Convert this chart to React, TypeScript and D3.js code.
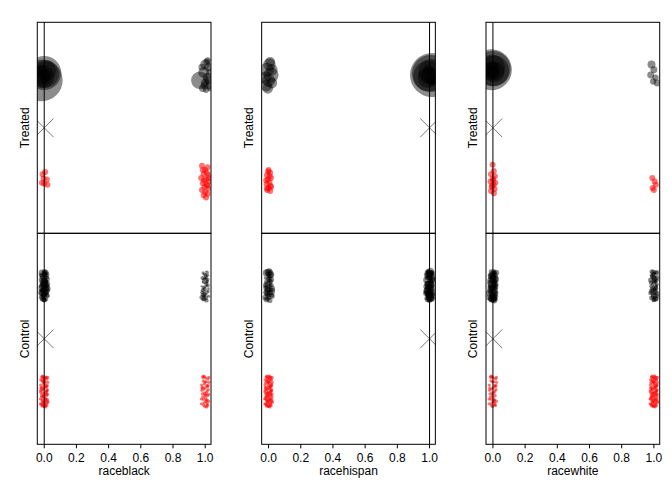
import * as d3 from "d3";

const variables = ["raceblack", "racehispan", "racewhite"];
const groups = ["Treated", "Control"];
const crossValue = [0, 1, 0]; // where the X mark and the vertical reference line sit
const xTicks = [0, 0.2, 0.4, 0.6, 0.8, 1];

// hand-typed jitter offsets (normalised, -1..1), shared by the dense control clusters
const JITTER: [number, number][] = [
  [0.12, -0.85], [-0.64, 0.33], [0.81, -0.12], [-0.27, 0.71], [0.45, 0.52], [-0.92, -0.41], [0.03, -0.23], [0.67, 0.88],
  [-0.51, -0.67], [0.29, 0.09], [-0.08, 0.95], [0.94, -0.58], [-0.73, 0.14], [0.38, -0.37], [-0.19, -0.94], [0.58, 0.26],
  [-0.44, 0.49], [0.16, 0.64], [-0.86, -0.08], [0.72, -0.79], [-0.33, -0.16], [0.05, 0.38], [0.87, 0.61], [-0.61, -0.89],
  [0.24, -0.62], [-0.97, 0.77], [0.49, -0.03], [-0.12, 0.22], [0.63, -0.31], [-0.39, 0.86], [0.91, 0.18], [-0.22, -0.49],
  [0.35, 0.97], [-0.69, -0.27], [0.08, -0.71], [-0.55, 0.59], [0.77, -0.45], [-0.03, 0.04], [0.19, -0.99], [-0.81, 0.43],
  [-0.41, 0.12], [0.66, -0.73], [-0.15, 0.57], [0.88, 0.35], [-0.79, -0.55], [0.27, -0.18], [-0.58, 0.91], [0.11, 0.79],
  [0.52, -0.92], [-0.95, 0.02], [0.37, 0.44], [-0.26, -0.81], [0.74, -0.06], [-0.07, -0.35], [0.96, 0.69], [-0.67, 0.28],
  [0.21, -0.52], [-0.36, 0.66], [0.59, 0.15], [-0.88, -0.74], [0.01, 0.93], [0.43, -0.28], [-0.47, -0.11], [0.83, 0.5],
  [-0.18, 0.31], [0.32, -0.86], [-0.74, 0.81], [0.68, 0.02], [-0.3, -0.63], [0.14, 0.21], [-0.99, 0.47], [0.55, 0.73],
  [-0.05, -0.6], [0.79, -0.39], [-0.53, -0.97], [0.25, 0.54], [-0.84, -0.22], [0.47, 0.84], [-0.21, 0.08], [0.9, -0.9],
];

// matched treated units: [jitter x, jitter y, weight], per variable
const treatedMatched0: [number, number, number][][] = [
  [[-0.015, 0.1, 90], [0.0, -0.04, 60], [0.005, -0.02, 40], [-0.01, 0.03, 28], [0.012, -0.08, 20], [-0.005, 0.06, 12], [0.008, 0.0, 7], [-0.012, -0.1, 4], [0.0, 0.1, 2.5]],
  [[0.005, -0.2, 8], [-0.01, -0.1, 10], [0.015, 0.0, 12], [0.0, 0.1, 9], [-0.015, 0.2, 7], [0.02, 0.15, 6], [0.01, -0.25, 5], [-0.005, 0.25, 6], [0.02, -0.1, 7], [-0.02, 0.05, 8]],
  [[-0.01, -0.1, 87], [0.0, -0.12, 65], [0.005, -0.08, 48], [-0.005, -0.14, 34], [0.008, -0.06, 22], [-0.008, -0.1, 14], [0.0, -0.04, 8], [0.004, -0.16, 4]],
];
const treatedMatched1: [number, number, number][][] = [
  [[-0.033, 0.1, 16], [0.0, -0.2, 5], [0.02, -0.15, 4], [-0.01, -0.05, 6], [0.015, 0.05, 5], [0.0, 0.15, 4], [0.025, 0.2, 3], [-0.015, 0.25, 3],
   [0.01, -0.25, 2.5], [0.03, -0.05, 3], [-0.02, -0.15, 2.5], [0.005, 0.28, 2], [0.02, 0.1, 4], [-0.005, 0.2, 3], [0.03, 0.25, 2], [0.015, -0.28, 2]],
  [[0.015, 0.0, 100], [0.005, -0.03, 70], [-0.005, 0.02, 50], [0.01, -0.06, 34], [-0.01, 0.05, 22], [0.0, 0.0, 14], [0.012, 0.08, 8], [-0.008, -0.1, 5], [0.004, 0.12, 3]],
  [[-0.015, -0.2, 3.3], [0.0, -0.1, 2.5], [-0.02, 0.0, 2.5], [0.01, 0.05, 2], [0.02, 0.15, 2.5], [-0.005, 0.12, 2]],
];

// unmatched treated units: [jitter x, jitter y], per variable
const treatedUnmatched0: [number, number][][] = [
  [[-0.01, -0.12], [0.006, -0.16], [0.016, -0.02], [-0.014, 0.04], [0.0, 0.06], [0.02, 0.08], [-0.004, -0.04]],
  [[0.0, -0.2], [0.01, -0.15], [-0.01, -0.1], [0.015, -0.05], [-0.005, -0.02], [0.005, 0.03], [-0.012, 0.07], [0.012, 0.1],
   [0.0, 0.14], [-0.008, 0.18], [0.01, 0.2], [-0.015, 0.0], [0.015, 0.12], [-0.003, -0.17], [0.007, -0.08], [-0.01, 0.15]],
  [[-0.002, -0.3], [0.005, -0.18], [-0.012, -0.12], [0.012, -0.08], [0.0, -0.04], [-0.015, 0.02], [0.015, 0.04], [0.004, 0.08],
   [-0.008, 0.12], [0.01, 0.16], [-0.012, 0.2], [0.006, 0.24], [0.0, 0.0], [-0.005, 0.1]],
];
const treatedUnmatched1: [number, number][][] = [
  [[-0.02, -0.28], [0.015, -0.25], [0.0, -0.2], [-0.01, -0.12], [0.02, -0.1], [-0.025, -0.05], [0.005, -0.02], [0.025, 0.02],
   [-0.015, 0.05], [0.01, 0.08], [-0.005, 0.12], [0.02, 0.15], [-0.02, 0.18], [0.0, 0.22], [0.015, 0.25], [-0.01, 0.28],
   [0.01, -0.15], [-0.015, -0.2], [0.005, 0.32], [0.02, -0.05], [-0.008, 0.0], [0.012, 0.1]],
  [],
  [[-0.01, -0.05], [0.005, 0.02], [0.012, 0.08], [-0.008, 0.14], [0.0, 0.18]],
];

// matched control units: weights, per variable
const controlMatched0: number[][] = [
  [1.2, 0.8, 2.0, 1.5, 0.9, 1.1, 2.6, 0.7, 1.4, 1.8, 1.0, 0.6, 2.2, 1.3, 0.9, 1.6, 3.0, 1.1, 0.8, 1.4, 1.9, 0.7, 1.2, 2.4, 1.0, 0.9, 1.5, 1.7, 0.8, 1.3, 2.1, 1.0, 0.6, 1.2,
   1.1, 0.9, 1.7, 0.8, 1.3, 2.0, 1.0, 0.7, 1.5, 1.2, 0.9, 2.3, 1.1, 0.8, 1.4, 1.0, 1.6, 0.7, 1.2, 1.9, 0.9, 1.3, 1.0, 0.8, 2.5, 1.1, 1.4, 0.9, 1.2, 0.7, 1.8, 1.0],
  [1.4, 0.9, 2.3, 1.1, 1.7, 0.8, 1.2, 2.0, 1.5, 0.9, 1.3, 2.6, 1.0, 1.6, 0.8, 1.9, 1.2, 1.1, 2.2, 0.9, 1.4, 1.0,
   1.2, 0.8, 1.6, 1.0, 2.0, 1.3, 0.9, 1.5, 1.1, 2.4, 0.8, 1.2, 1.7, 1.0, 1.4, 0.9, 1.8, 1.1, 1.3, 0.7, 1.5, 1.0, 1.2],
  [1.3, 2.1, 0.9, 1.6, 1.1, 2.7, 0.8, 1.4, 1.9, 1.0, 1.2, 0.7, 2.3, 1.5, 1.1, 0.9, 1.8, 1.3, 2.0, 1.0, 0.8, 1.6, 1.2, 2.4, 1.1, 0.9, 1.5, 1.7, 1.0, 1.3, 0.8, 2.2, 1.4, 1.0,
   1.2, 0.9, 1.7, 1.1, 2.2, 1.4, 0.8, 1.5, 1.0, 1.9, 1.3, 0.9, 2.5, 1.1, 1.6, 1.0, 1.2, 0.8, 1.8, 1.4, 1.0, 2.0, 1.3, 0.9, 1.5, 1.1, 1.7, 1.2, 0.8, 1.4, 2.1, 1.0, 1.3, 0.9, 1.6, 1.1],
];
const controlMatched1: number[][] = [
  [0.5, 0.8, 1.2, 0.3, 0.9, 0.6, 1.4, 0.4, 0.7, 1.0, 0.2, 0.8, 1.3, 0.5, 0.6, 0.1, 0.9, 0.7,
   0.6, 1.1, 0.4, 0.8, 0.9, 0.5, 1.2, 0.7, 0.3, 1.0, 0.6, 0.8, 2.0, 0.5, 0.9, 0.4, 0.7],
  [1.5, 2.2, 1.1, 2.8, 1.3, 1.8, 0.9, 2.5, 1.4, 1.0, 2.0, 1.6, 3.0, 1.2, 1.7, 0.9, 2.3, 1.5, 1.1, 1.9, 2.6, 1.3, 1.0, 2.1, 1.4, 1.8, 1.2, 2.4, 1.6, 1.1, 2.0, 1.3, 0.9, 1.5,
   1.3, 2.0, 1.0, 1.7, 2.5, 1.2, 1.5, 0.9, 2.2, 1.4, 1.1, 1.8, 2.7, 1.0, 1.6, 1.3, 2.1, 0.9, 1.5, 1.2, 1.9, 1.4, 2.3, 1.1, 1.0, 1.7, 1.3, 2.0, 1.5, 0.9, 1.2, 1.8, 1.4, 1.1, 1.6, 1.0],
  [0.6, 1.1, 0.4, 1.5, 0.8, 0.2, 1.2, 0.9, 0.5, 1.7, 0.7, 1.0, 0.3, 1.3, 0.8, 0.6, 1.4, 0.9, 0.15, 1.1, 0.5, 1.6, 0.7, 1.0, 0.4, 1.2,
   0.9, 1.3, 0.5, 1.0, 1.8, 0.7, 1.2, 0.6, 1.5, 0.8, 1.1, 0.4, 1.4, 0.9, 1.0, 0.6, 1.7, 0.8, 1.2, 0.5, 1.0, 1.3, 0.7, 0.9],
];

// unmatched control units: counts, per variable
const controlUnmatched0 = [70, 80, 40];
const controlUnmatched1 = [45, 0, 80];

const W = 672;
const H = 480;
const panelLeft = 37.3;
const panelStep = 224.35;
const panelWidth = 173.7;
const plotTop = 22.3;
const plotMid = 233.3;
const plotBottom = 444.3;
const font = "'Liberation Sans', Arial, sans-serif";

type Pt = { x: number; y: number; r: number; red: boolean };

function jit(cluster: number, k: number) {
  return JITTER[(cluster * 23 + k) % JITTER.length];
}

export default function App() {
  const rScale = d3.scaleSqrt().domain([0, 1]).range([0, 2.2]);

  const halfPoints = (i: number, g: number): Pt[] => {
    const pts: Pt[] = [];
    if (g === 0) {
      treatedMatched0[i].forEach(([jx, jy, w]) => pts.push({ x: jx, y: 1 + jy, r: rScale(w), red: false }));
      treatedMatched1[i].forEach(([jx, jy, w]) => pts.push({ x: 1 + jx, y: 1 + jy, r: rScale(w), red: false }));
      treatedUnmatched0[i].forEach(([jx, jy]) => pts.push({ x: jx, y: 3 + jy, r: 3, red: true }));
      treatedUnmatched1[i].forEach(([jx, jy]) => pts.push({ x: 1 + jx, y: 3 + jy, r: 3, red: true }));
    } else {
      controlMatched0[i].forEach((w, k) => {
        const [a, b] = jit(i * 4, k);
        pts.push({ x: a * 0.022, y: 1 + b * 0.28, r: rScale(w), red: false });
      });
      controlMatched1[i].forEach((w, k) => {
        const [a, b] = jit(i * 4 + 1, k);
        pts.push({ x: 1 + a * 0.022, y: 1 + b * 0.28, r: rScale(w), red: false });
      });
      d3.range(controlUnmatched0[i]).forEach((k) => {
        const [a, b] = jit(i * 4 + 2, k);
        pts.push({ x: a * 0.024, y: 3 + b * 0.3, r: 1.6, red: true });
      });
      d3.range(controlUnmatched1[i]).forEach((k) => {
        const [a, b] = jit(i * 4 + 3, k);
        pts.push({ x: 1 + a * 0.024, y: 3 + b * 0.3, r: 1.6, red: true });
      });
    }
    return pts;
  };

  return (
    <svg width={W} height={H} style={{ position: "absolute", left: 0, top: 0 }} fontFamily={font}>
      <rect width={W} height={H} fill="white" />
      <defs>
        {variables.map((v, i) =>
          groups.map((gname, g) => (
            <clipPath id={`clip-${i}-${g}`} key={`${v}-${gname}`}>
              <rect
                x={panelLeft + i * panelStep}
                y={g === 0 ? plotTop : plotMid}
                width={panelWidth}
                height={g === 0 ? plotMid - plotTop : plotBottom - plotMid}
              />
            </clipPath>
          ))
        )}
      </defs>
      {variables.map((v, i) => {
        const left = panelLeft + i * panelStep;
        const x = d3.scaleLinear().domain([-0.043, 1.036]).range([left, left + panelWidth]);
        return (
          <g key={v}>
            {groups.map((gname, g) => {
              const y0 = g === 0 ? plotTop : plotMid;
              const y1 = g === 0 ? plotMid : plotBottom;
              const y = d3.scaleLinear().domain([0, 4]).range([y0, y1]);
              const pts = halfPoints(i, g);
              const cx = x(crossValue[i]);
              const cy = y(2);
              return (
                <g key={gname}>
                  <g clipPath={`url(#clip-${i}-${g})`}>
                    {pts.map((p, k) => (
                      <circle
                        key={k}
                        cx={x(p.x)}
                        cy={y(p.y)}
                        r={p.r}
                        fill={p.red ? "#ff0000" : "#000000"}
                        fillOpacity={p.red ? 0.55 : 0.45}
                      />
                    ))}
                    <line x1={cx - 9.3} y1={cy - 9.3} x2={cx + 9.3} y2={cy + 9.3} stroke="#777" strokeWidth={1} />
                    <line x1={cx - 9.3} y1={cy + 9.3} x2={cx + 9.3} y2={cy - 9.3} stroke="#777" strokeWidth={1} />
                  </g>
                  <rect x={left} y={y0} width={panelWidth} height={y1 - y0} fill="none" stroke="#000" strokeWidth={1} />
                  <text
                    transform={`translate(${left - 8.8},${(y0 + y1) / 2}) rotate(-90)`}
                    textAnchor="middle"
                    fontSize={12}
                  >
                    {gname}
                  </text>
                </g>
              );
            })}
            <line x1={x(crossValue[i])} x2={x(crossValue[i])} y1={plotTop} y2={plotBottom} stroke="#000" strokeWidth={1} />
            {xTicks.map((t) => (
              <g key={t}>
                <line x1={x(t)} x2={x(t)} y1={plotBottom} y2={plotBottom + 4} stroke="#000" />
                <text x={x(t)} y={461.7} textAnchor="middle" fontSize={12}>
                  {t.toFixed(1)}
                </text>
              </g>
            ))}
            <text x={left + panelWidth / 2} y={475} textAnchor="middle" fontSize={12}>
              {v}
            </text>
          </g>
        );
      })}
    </svg>
  );
}
